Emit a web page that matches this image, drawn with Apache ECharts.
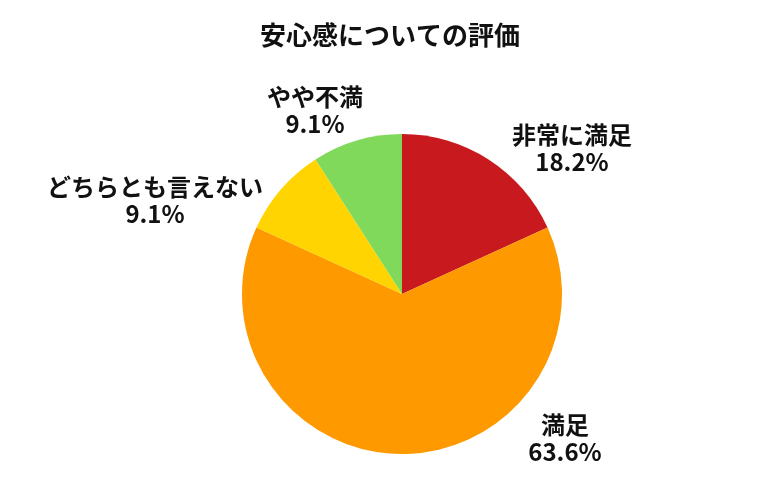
<!DOCTYPE html>
<html>
<head>
<meta charset="utf-8">
<script src="https://cdn.jsdelivr.net/npm/echarts@6/dist/echarts.min.js"></script>
<style>
  html, body { margin: 0; padding: 0; background: #fff; }
  #main { width: 780px; height: 500px; }
</style>
</head>
<body>
<div id="main"></div>
<script>
var titleText = '安心感についての評価';
var categories = ['非常に満足', '満足', 'どちらとも言えない', 'やや不満'];
var counts = [2, 7, 1, 1];
var colors = ['#C8191F', '#FF9900', '#FFD400', '#80D95A'];

// 各ラベルの中心位置（円の中心からのずれ）
var labelOffsets = [[170, -146], [163, 144], [-247, -94], [-87, -184]];

var cx = 402, cy = 294;

var pieData = [];
for (var i = 0; i < categories.length; i++) {
    pieData.push({ name: categories[i], value: counts[i], itemStyle: { color: colors[i] } });
}

var chart = echarts.init(document.getElementById('main'));

var option = {
    animation: false,
    title: {
        text: titleText,
        left: 'center',
        top: 17,
        textStyle: {
            fontFamily: 'Noto Sans CJK JP',
            fontSize: 26,
            fontWeight: 'bold',
            color: '#111'
        }
    },
    series: {
        type: 'pie',
        radius: 160,
        center: [cx, cy],
        startAngle: 90,
        clockwise: true,
        data: pieData,
        label: {
            show: true,
            position: 'outside',
            formatter: function (p) {
                return p.name + '\n' + p.percent.toFixed(1) + '%';
            },
            fontFamily: 'Noto Sans CJK JP',
            fontSize: 24,
            fontWeight: 'bold',
            lineHeight: 27,
            color: '#111'
        },
        labelLine: { show: false },
        labelLayout: function (params) {
            var o = labelOffsets[params.dataIndex];
            return {
                x: cx + o[0],
                y: cy + o[1],
                align: 'center',
                verticalAlign: 'middle'
            };
        }
    }
};

chart.setOption(option);
</script>
</body>
</html>
